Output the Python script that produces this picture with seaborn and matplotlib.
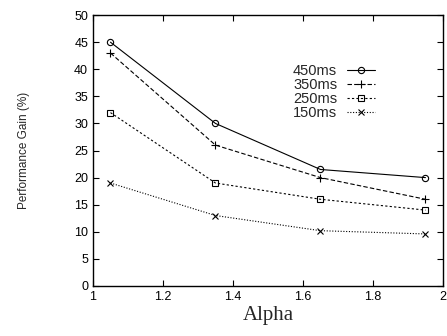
import pandas as pd
import matplotlib
matplotlib.use("Agg")
import matplotlib.pyplot as plt
import seaborn as sns

# values
alpha = [1.05, 1.35, 1.65, 1.95]
gain_450 = [45, 30, 21.5, 20]
gain_350 = [43, 26, 20, 16]
gain_250 = [32, 19, 16, 14]
gain_150 = [19, 13, 10.2, 9.6]
labels = ["450ms", "350ms", "250ms", "150ms"]

df = pd.DataFrame({
    "alpha": alpha * 4,
    "gain": gain_450 + gain_350 + gain_250 + gain_150,
    "series": [l for l in labels for _ in alpha],
})

sns.set_style("ticks")
plt.rcParams['font.family'] = ['Liberation Sans', 'DejaVu Sans']

fig = plt.figure(figsize=(4.47, 3.36), dpi=100)
ax = fig.add_axes([0.208, 0.149, 0.783, 0.806])

styles = {
    "450ms": ("-", "o", 4.5),
    "350ms": ((0, (4, 2)), "+", 6),
    "250ms": ((0, (2, 2)), "s", 5),
    "150ms": ((0, (1, 1.5)), "x", 5),
}
for lab in labels:
    ls, mk, ms = styles[lab]
    sub = df[df["series"] == lab]
    sns.lineplot(data=sub, x="alpha", y="gain", ax=ax, color="black",
                 linestyle=ls, marker=mk, markersize=ms, markerfacecolor="none",
                 markeredgecolor="black", markeredgewidth=0.8, linewidth=0.8,
                 label=lab)

ax.set_xlim(1, 2)
ax.set_ylim(0, 50)
ax.set_xticks([1, 1.2, 1.4, 1.6, 1.8, 2])
ax.set_xticklabels(["1", "1.2", "1.4", "1.6", "1.8", "2"])
ax.set_yticks(range(0, 51, 5))
ax.tick_params(direction="in", top=True, right=True, labelsize=9, length=4,
               width=0.8, colors="black")
for s in ax.spines.values():
    s.set_linewidth(1.0)
    s.set_color("black")

ax.set_xlabel("Alpha", family=["Liberation Serif"], fontsize=15, labelpad=2)
ax.set_ylabel("Performance Gain (%)", fontsize=8.5, labelpad=32)

ax.legend(loc="upper left", bbox_to_anchor=(0.551, 0.845), frameon=False,
          markerfirst=False, fontsize=10.5, handlelength=1.9, handletextpad=0.7,
          labelspacing=0.0, borderpad=0)

fig.savefig("out.png", dpi=100)
